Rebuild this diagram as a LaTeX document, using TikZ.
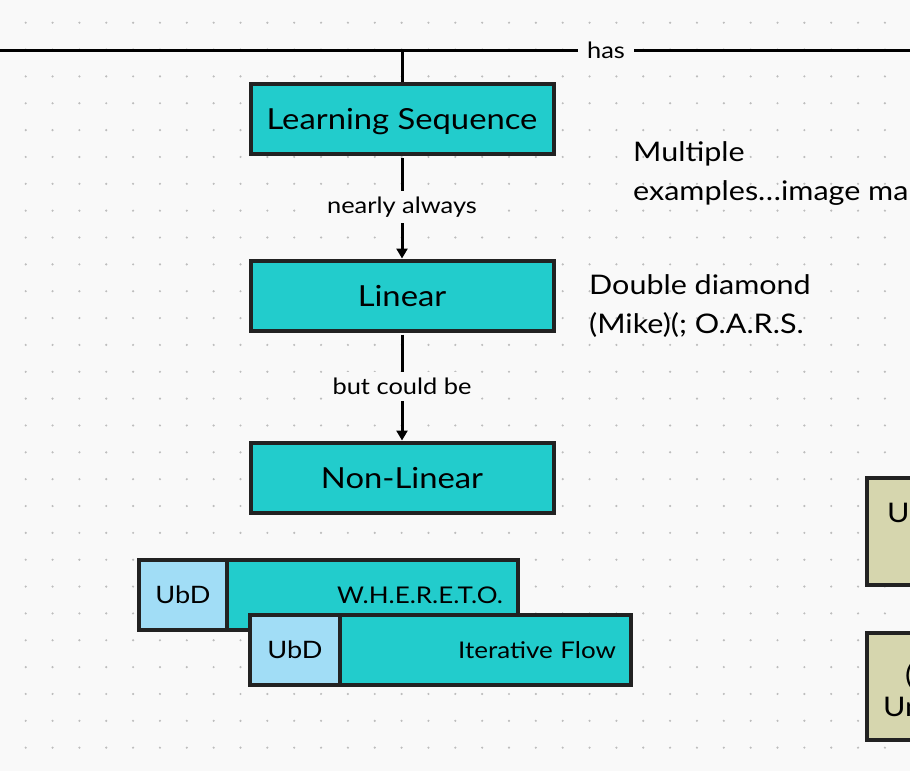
\documentclass[tikz,border=0pt]{standalone}
\usepackage{fontspec}
\setmainfont{Lato}[FakeStretch=1.13]
\usetikzlibrary{arrows.meta}

\definecolor{bgcol}{HTML}{F9F9F9}
\definecolor{dotcol}{HTML}{BDBDBD}
\definecolor{edgecol}{HTML}{222222}
\definecolor{seqfill}{HTML}{22CCCC}
\definecolor{ubdfill}{HTML}{A1DDF6}
\definecolor{olivefill}{HTML}{D6D6AE}

\begin{document}
\begin{tikzpicture}[x=1pt, y=-1pt,
    every node/.style={font=\fontsize{29}{39}\selectfont, text=black},
    seqbox/.style={draw=edgecol, line width=4pt, fill=seqfill,
        minimum width=303pt, minimum height=70pt, inner sep=0pt,
        text height=21pt, text depth=0pt},
    mainbox/.style={draw=edgecol, line width=4pt, fill=seqfill,
        minimum height=70pt, inner xsep=15pt, inner ysep=0pt,
        text width=261pt, align=right, text height=17pt, text depth=0pt,
        font=\fontsize{23}{28}\selectfont},
    ubdbox/.style={draw=edgecol, line width=4pt, fill=ubdfill,
        minimum height=70pt, inner sep=0pt, text height=17pt, text depth=0pt,
        font=\fontsize{24}{28}\selectfont},
    olivebox/.style={draw=edgecol, line width=4pt, fill=olivefill,
        minimum width=220pt, minimum height=107pt},
    lbl/.style={fill=bgcol, inner xsep=9pt, inner ysep=6pt,
        font=\fontsize{22.5}{26}\selectfont},
    note/.style={align=left, inner sep=0pt, anchor=base west,
        font=\fontsize{27}{39}\selectfont},
    flow/.style={line width=3pt, shorten <=2pt,
        -{Triangle[length=10pt, width=11pt]}}]

    \fill[bgcol] (0,0) rectangle (910,771);
    \useasboundingbox (0,0) rectangle (910,771);
    \clip (0,0) rectangle (910,771);

    % dotted grid
    \foreach \i in {0,...,33}
        \foreach \j in {0,...,28}
            \fill[dotcol] (25.7+26.85*\i, 22.7+26.85*\j) circle (1.2);

    % top line
    \coordinate (topleft) at (0,50);
    \coordinate (topright) at (910,50);
    \coordinate (branch) at (402,50);
    \node[lbl] (has) at (606,50) {has};
    \draw[line width=3pt] (topleft) -- (has) -- (topright);

    % sequence
    \node[seqbox] (ls) at (402,119) {Learning Sequence};
    \node[seqbox] (lin) at (402,295.5) {Linear};
    \node[seqbox] (nonlin) at (402,477.5) {Non-Linear};

    \draw[line width=3pt] (branch) -- (ls);
    \draw[flow] (ls) -- node[lbl] {nearly always} (lin);
    \draw[flow] (lin) -- node[lbl] {but could be} (nonlin);

    % notes
    \node[note] (multi) at (633,200) {Multiple\\examples…image ma};
    \node[note] (diamond) at (589,333) {Double diamond\\(Mike)(; O.A.R.S.};

    % UbD pairs
    \node[mainbox] (whereto) at (372.5,595) {W.H.E.R.E.T.O.};
    \node[ubdbox, minimum width=88pt] (ubda) at (183,595) {UbD};
    \node[mainbox] (iter) at (485.5,650) {Iterative Flow};
    \node[ubdbox, minimum width=90pt] (ubdb) at (295,650) {UbD};

    % right side, cut off
    \node[olivebox] (olivea) at (977,531.5) {};
    \node[note] (oliveatxt) at (887,522.7) {U};
    \node[olivebox] (oliveb) at (977,686.5) {};
    \node[note] (olivebtxt) at (905,684) {(};
    \node[note] (olivebtxtb) at (883,716.7) {Un};
\end{tikzpicture}
\end{document}
